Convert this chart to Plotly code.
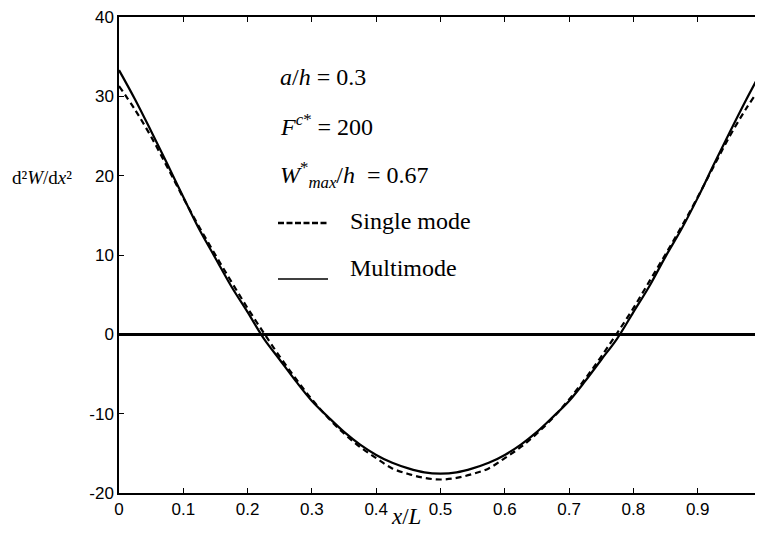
import plotly.graph_objects as go

# x/L positions
x_pos = [0.000, 0.025, 0.050, 0.075, 0.100, 0.125, 0.150, 0.175, 0.200, 0.225,
         0.250, 0.275, 0.300, 0.325, 0.350, 0.375, 0.400, 0.425, 0.450, 0.475,
         0.500, 0.525, 0.550, 0.575, 0.600, 0.625, 0.650, 0.675, 0.700, 0.725,
         0.750, 0.775, 0.800, 0.825, 0.850, 0.875, 0.900, 0.925, 0.950, 0.975, 1.000]

# Multimode (solid)
multimode = [33.3, 29.6, 25.6, 21.5, 17.3, 13.2, 9.6, 6.0, 2.8, -0.5,
             -3.2, -5.9, -8.4, -10.4, -12.3, -13.9, -15.2, -16.2, -16.9, -17.4,
             -17.55, -17.4, -16.9, -16.2, -15.2, -13.9, -12.3, -10.4, -8.4, -5.9,
             -3.2, -0.5, 2.8, 6.1, 9.8, 13.3, 17.2, 21.4, 25.5, 29.5, 33.3]

# Single mode (dashed)
single_mode = [31.3, 28.3, 24.9, 21.1, 17.2, 13.5, 10.0, 6.6, 3.3, 0.2,
               -2.8, -5.6, -8.2, -10.5, -12.5, -14.2, -15.6, -16.9, -17.6, -18.1,
               -18.3, -18.1, -17.6, -16.9, -15.6, -14.2, -12.5, -10.5, -8.2, -5.6,
               -2.8, 0.2, 3.3, 6.7, 10.1, 13.6, 17.3, 21.2, 25.0, 28.4, 31.4]

x_ticks = [0, 0.1, 0.2, 0.3, 0.4, 0.5, 0.6, 0.7, 0.8, 0.9, 1]
x_ticktext = ["0", "0.1", "0.2", "0.3", "0.4", "0.5", "0.6", "0.7", "0.8", "0.9", "1"]
y_ticks = [-20, -10, 0, 10, 20, 30, 40]
y_ticktext = ["-20", "-10", "0", "10", "20", "30", "40"]

W, H = 763, 534
OFF = 8  # page body margin
L, R, T, B = 111, 9, 9, 49
PW, PH = W - L - R, H - T - B

SERIF = '"Liberation Serif", "Times New Roman", Times, serif'
SANS = '"Liberation Sans", Arial, Helvetica, sans-serif'


def px(xp):
    return (xp - OFF - L) / PW


def py(yp):
    return (H - B - (yp - OFF)) / PH


fig = go.Figure()
fig.add_trace(go.Scatter(x=x_pos, y=single_mode, mode="lines", name="Single mode",
                         line=dict(color="black", width=2.2, dash="6px,4px"),
                         line_shape="spline"))
fig.add_trace(go.Scatter(x=x_pos, y=multimode, mode="lines", name="Multimode",
                         line=dict(color="black", width=2.2), line_shape="spline"))

axis_common = dict(showline=True, linecolor="black", linewidth=1.5, mirror="ticks",
                   ticks="inside", ticklen=5, tickwidth=1, tickcolor="black",
                   showgrid=False, automargin=False, ticklabeloverflow="allow",
                   tickfont=dict(family=SANS, size=17, color="black"))

fig.update_xaxes(range=[0, 1], tickvals=x_ticks, ticktext=x_ticktext, zeroline=False,
                 **axis_common)
fig.update_yaxes(range=[-20, 40], tickvals=y_ticks, ticktext=y_ticktext, zeroline=True,
                 zerolinecolor="black", zerolinewidth=2.5, **axis_common)

serif = dict(family=SERIF, size=24, color="black")

annos = [
    ("<i>a</i>/<i>h</i> = 0.3", 278, 77),
    ("<i>F</i><sup><i>c</i>*</sup> = 200", 278, 125),
    ("<i>W</i><sup>*</sup><sub><i>max</i></sub>/<i>h</i>  = 0.67", 278, 175),
    ("Single mode", 348, 221),
    ("Multimode", 348, 268),
]
for text, xp, yp in annos:
    fig.add_annotation(text=text, x=px(xp), y=py(yp), xref="paper", yref="paper",
                       xanchor="left", yanchor="middle", showarrow=False, font=serif)

# legend line samples
fig.add_shape(type="line", xref="paper", yref="paper", x0=px(278), x1=px(328),
              y0=py(223), y1=py(223), line=dict(color="black", width=2.6, dash="6px,2.5px"))
fig.add_shape(type="line", xref="paper", yref="paper", x0=px(278), x1=px(328),
              y0=py(279), y1=py(279), line=dict(color="black", width=1.3))

# axis titles
fig.add_annotation(text="d²<i>W</i>/d<i>x</i>²", x=px(42), y=py(177), xref="paper",
                   yref="paper", xanchor="center", yanchor="middle", showarrow=False,
                   font=dict(family=SERIF, size=19, color="black"))
fig.add_annotation(text="<i>x</i>/<i>L</i>", x=px(406), y=py(516), xref="paper",
                   yref="paper", xanchor="center", yanchor="middle", showarrow=False,
                   font=dict(family=SERIF, size=23, color="black"))

fig.update_layout(width=W, height=H, margin=dict(l=L, r=R, t=T, b=B, autoexpand=False),
                  paper_bgcolor="white", plot_bgcolor="white", showlegend=False)

fig.write_html("out.html")
